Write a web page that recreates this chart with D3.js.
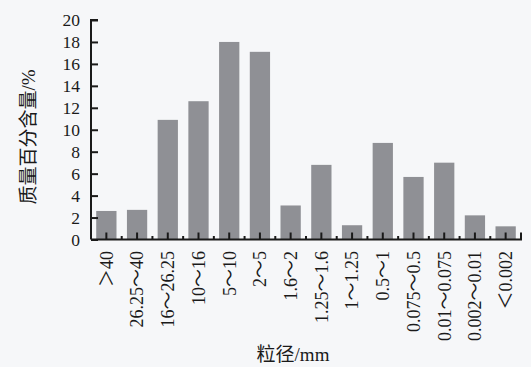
<!DOCTYPE html>
<html>
<head>
<meta charset="utf-8">
<script src="https://cdn.jsdelivr.net/npm/d3@7/dist/d3.min.js"></script>
<style>
  html, body { margin: 0; padding: 0; background: #f6f7f9; }
  svg { display: block; }
</style>
</head>
<body>
<svg id="chart" width="531" height="367"></svg>
<script>
// Particle size classes (mm) and their mass percentages
const categories = ["＞40", "26.25～40", "16～26.25", "10～16", "5～10", "2～5", "1.6～2",
  "1.25～1.6", "1～1.25", "0.5～1", "0.075～0.5", "0.01～0.075", "0.002～0.01", "＜0.002"];
const values = [2.6, 2.7, 10.9, 12.6, 18.0, 17.1, 3.1, 6.8, 1.3, 8.8, 5.7, 7.0, 2.2, 1.2];
const yTicks = [0, 2, 4, 6, 8, 10, 12, 14, 16, 18, 20];
const yTitle = "质量百分含量/%";
const xTitle = "粒径/mm";

const svg = d3.select("#chart");
const serif = "'Liberation Serif', 'Times New Roman', 'Noto Sans CJK SC', serif";

const x0 = 91, x1 = 521, yTop = 20, yBase = 239.5;

const x = d3.scaleBand()
  .domain(categories)
  .range([x0, x1])
  .paddingInner(0.34)
  .paddingOuter(0.17);

const y = d3.scaleLinear().domain([0, 20]).range([yBase, yTop]);

// Bars
svg.append("g")
  .selectAll("rect")
  .data(values)
  .join("rect")
  .attr("x", (d, i) => x(categories[i]))
  .attr("y", d => y(d))
  .attr("width", x.bandwidth())
  .attr("height", d => y(0) - y(d))
  .attr("fill", "#8f9095");

// Y axis with inward ticks
const yAxis = svg.append("g").attr("transform", `translate(${x0},0)`)
  .call(d3.axisRight(y).tickValues(yTicks).tickSize(7).tickPadding(0).tickFormat(""));
yAxis.select(".domain").attr("d", `M7,${yTop}H0V${yBase}`).attr("stroke", "#1a1a1a").attr("stroke-width", 2);
yAxis.selectAll(".tick line").attr("stroke", "#1a1a1a").attr("stroke-width", 2);

svg.append("g")
  .selectAll("text")
  .data(yTicks)
  .join("text")
  .attr("x", 80)
  .attr("y", d => y(d))
  .attr("dy", "0.35em")
  .attr("text-anchor", "end")
  .attr("font-family", serif)
  .attr("font-size", 17.5)
  .attr("fill", "#1a1a1a")
  .text(d => d);

// X axis: major ticks at class centres, minor ticks at class boundaries
const xAxis = svg.append("g");
xAxis.append("line")
  .attr("x1", x0).attr("x2", x1 + 1)
  .attr("y1", yBase).attr("y2", yBase)
  .attr("stroke", "#1a1a1a").attr("stroke-width", 2);

xAxis.selectAll("line.major")
  .data(categories)
  .join("line")
  .attr("class", "major")
  .attr("x1", d => x(d) + x.bandwidth() / 2)
  .attr("x2", d => x(d) + x.bandwidth() / 2)
  .attr("y1", yBase).attr("y2", yBase - 7)
  .attr("stroke", "#1a1a1a").attr("stroke-width", 2);

const step = x.step();
const bounds = d3.range(categories.length + 1).map(i => x0 + i * step);
xAxis.selectAll("line.minor")
  .data(bounds.slice(1))
  .join("line")
  .attr("class", "minor")
  .attr("x1", d => d).attr("x2", d => d)
  .attr("y1", yBase).attr("y2", (d, i) => i === bounds.length - 2 ? yBase - 7 : yBase - 3.5)
  .attr("stroke", "#1a1a1a").attr("stroke-width", 2);

// Rotated category labels
svg.append("g")
  .selectAll("text")
  .data(categories)
  .join("text")
  .attr("transform", d => `translate(${x(d) + x.bandwidth() / 2},251) rotate(-90)`)
  .attr("dy", "0.35em")
  .attr("text-anchor", "end")
  .attr("font-family", serif)
  .attr("font-size", 18)
  .attr("fill", "#1a1a1a")
  .text(d => d);

// Axis titles
svg.append("text")
  .attr("transform", "translate(28,137) rotate(-90)")
  .attr("dy", "0.35em")
  .attr("text-anchor", "middle")
  .attr("font-family", serif)
  .attr("font-size", 19)
  .attr("fill", "#1a1a1a")
  .text(yTitle);

svg.append("text")
  .attr("x", 293)
  .attr("y", 361)
  .attr("text-anchor", "middle")
  .attr("font-family", serif)
  .attr("font-size", 19)
  .attr("fill", "#1a1a1a")
  .text(xTitle);
</script>
</body>
</html>
